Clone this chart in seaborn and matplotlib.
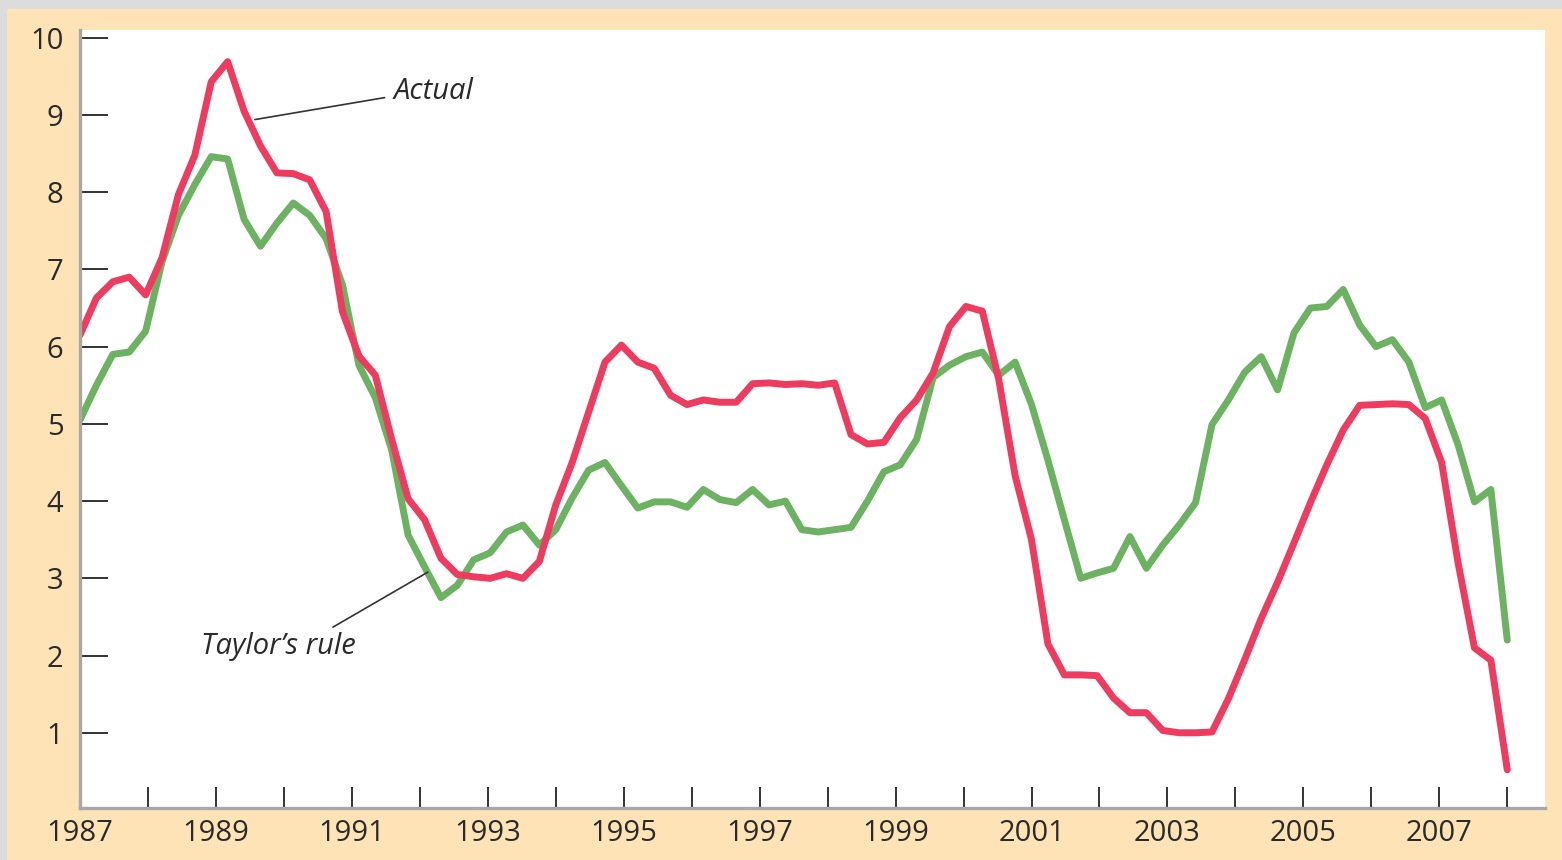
#!/usr/bin/env python3
"""
Actual federal funds rate vs. Taylor's rule, 1987-2008 (quarterly)
"""
import numpy as np
import pandas as pd
import matplotlib.pyplot as plt
import seaborn as sns
from matplotlib.patches import Rectangle

# quarterly values, 1987Q1 .. 2008Q4
actual = [
    6.15, 6.63, 6.84, 6.90, 6.67, 7.15, 7.97, 8.48,
    9.43, 9.69, 9.05, 8.60, 8.25, 8.24, 8.16, 7.75,
    6.45, 5.88, 5.63, 4.80, 4.03, 3.76, 3.26, 3.05,
    3.02, 3.00, 3.06, 3.00, 3.22, 3.95, 4.50, 5.15,
    5.80, 6.02, 5.80, 5.72, 5.37, 5.25, 5.31, 5.28,
    5.28, 5.52, 5.53, 5.51, 5.52, 5.50, 5.53, 4.86,
    4.74, 4.76, 5.08, 5.31, 5.66, 6.26, 6.52, 6.46,
    5.58, 4.33, 3.50, 2.15, 1.75, 1.75, 1.74, 1.45,
    1.26, 1.26, 1.03, 1.00, 1.00, 1.01, 1.44, 1.95,
    2.48, 2.95, 3.46, 3.98, 4.47, 4.92, 5.24, 5.25,
    5.26, 5.25, 5.07, 4.50, 3.20, 2.10, 1.94, 0.52,
]
taylor = [
    5.05, 5.50, 5.90, 5.93, 6.20, 7.10, 7.70, 8.10,
    8.46, 8.43, 7.65, 7.30, 7.60, 7.86, 7.70, 7.40,
    6.80, 5.76, 5.34, 4.66, 3.56, 3.15, 2.75, 2.91,
    3.24, 3.33, 3.60, 3.69, 3.43, 3.63, 4.04, 4.40,
    4.50, 4.20, 3.91, 3.99, 3.99, 3.92, 4.15, 4.02,
    3.98, 4.15, 3.95, 4.00, 3.63, 3.60, 3.63, 3.66,
    4.00, 4.38, 4.47, 4.80, 5.60, 5.76, 5.87, 5.93,
    5.63, 5.80, 5.25, 4.53, 3.76, 3.00, 3.07, 3.13,
    3.54, 3.13, 3.43, 3.69, 3.98, 4.99, 5.31, 5.67,
    5.87, 5.44, 6.18, 6.50, 6.52, 6.74, 6.28, 6.00,
    6.09, 5.80, 5.21, 5.31, 4.73, 3.99, 4.15, 2.20,
]
years = list(range(1987, 2009))
label_years = [y for y in years if y % 2 == 1]
y_ticks = list(range(1, 11))

BEIGE = "#FEE3B7"
RED = "#EE3B60"
GREEN = "#6DB263"
INK = "#2A2A2A"

n = len(actual)
df = pd.DataFrame({
    "q": np.tile(np.arange(n), 2),
    "rate": taylor + actual,
    "series": ["Taylor's rule"] * n + ["Actual"] * n,
})

sns.set_theme(style="white")
plt.rcParams["font.family"] = ["Open Sans", "DejaVu Sans"]

fig = plt.figure(figsize=(15.62, 8.6), dpi=100, facecolor=BEIGE)
# grey outer border (top and left edges)
fig.patches.append(Rectangle((0, 1 - 9 / 860), 1, 9 / 860, transform=fig.transFigure,
                             facecolor="#DCDCDC", edgecolor="none", zorder=-1))
fig.patches.append(Rectangle((0, 0), 7 / 1562, 1, transform=fig.transFigure,
                             facecolor="#DCDCDC", edgecolor="none", zorder=-1))

ax = fig.add_axes([80 / 1562, 52 / 860, (1545 - 80) / 1562, (808 - 30) / 860])
ax.set_facecolor("white")

sns.lineplot(data=df, x="q", y="rate", hue="series",
             palette={"Taylor's rule": GREEN, "Actual": RED},
             hue_order=["Taylor's rule", "Actual"],
             linewidth=5, legend=False, ax=ax,
             solid_joinstyle="round", solid_capstyle="round")

# year scale: 22 years spread across the 88 quarters
span = (n - 1) / (years[-1] - years[0])
ax.set_xticks([(y - years[0]) * span for y in years])
ax.set_xticklabels([str(y) if y in label_years else "" for y in years])
ax.set_yticks(y_ticks)
ax.set_yticklabels([str(v) for v in y_ticks])
ax.set_xlim(0, 89.3)
ax.set_ylim(0.026, 10.1)
ax.set_xlabel("")
ax.set_ylabel("")

for side in ["top", "right"]:
    ax.spines[side].set_visible(False)
for side in ["left", "bottom"]:
    ax.spines[side].set_color("#A8A8A8")
    ax.spines[side].set_linewidth(2.4)

ax.tick_params(axis="y", left=True, direction="in", length=20, width=1.4, color="#333333",
               labelsize=21, labelcolor=INK, pad=12)
ax.tick_params(axis="x", bottom=True, direction="in", length=15, width=1.4, color="#333333",
               labelsize=21, labelcolor=INK, pad=8)

ax.annotate("Actual", xy=(10.66, 8.94), xytext=(19.1, 9.3),
            fontsize=21, fontstyle="italic", color=INK, va="center", ha="left",
            arrowprops=dict(arrowstyle="-", color="#333333", lw=1.2,
                            relpos=(0.0, 0.35), shrinkA=4, shrinkB=0))
ax.annotate("Taylor\u2019s rule", xy=(21.2, 3.08), xytext=(12.1, 2.12),
            fontsize=21, fontstyle="italic", color=INK, va="center", ha="center",
            arrowprops=dict(arrowstyle="-", color="#333333", lw=1.2,
                            relpos=(0.8, 1.0), shrinkA=2, shrinkB=0))

plt.savefig("out.png", dpi=100, facecolor=BEIGE)
plt.close()
print("Saved: out.png")
